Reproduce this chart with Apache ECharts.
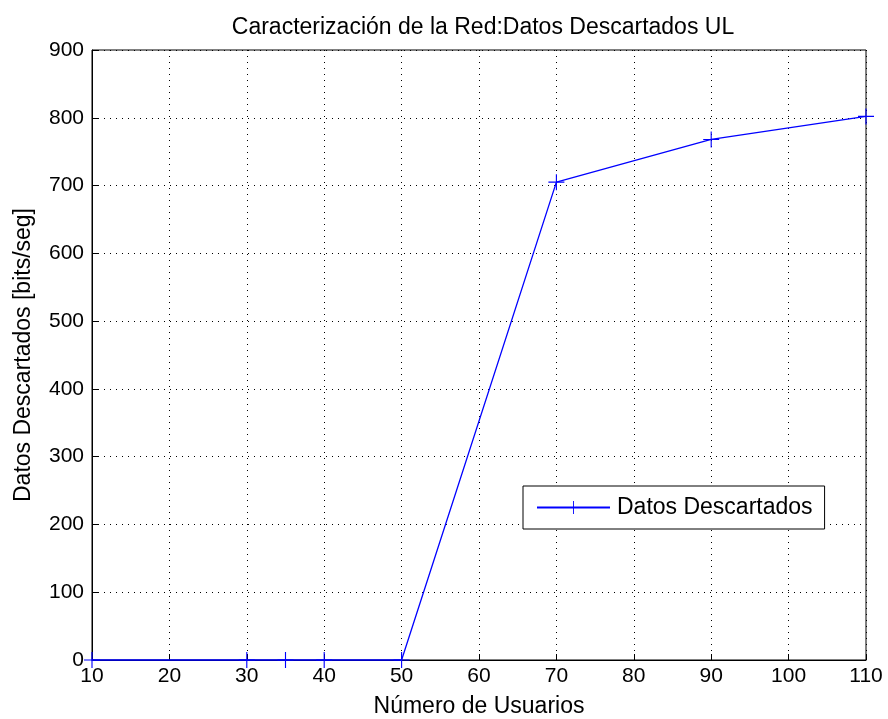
<!DOCTYPE html>
<html><head><meta charset="utf-8">
<script src="https://cdn.jsdelivr.net/npm/echarts@6/dist/echarts.min.js"></script>
<style>html,body{margin:0;padding:0;background:#fff}#c{width:888px;height:719px}</style>
</head><body><div id="c"></div>
<script>
const users = [10, 30, 35, 40, 50, 70, 90, 110];
const dropped = [0, 0, 0, 0, 0, 705, 768, 802];
const seriesName = 'Datos Descartados';
const titleText = 'Caracterización de la Red:Datos Descartados UL';
const xName = 'Número de Usuarios';
const yName = 'Datos Descartados [bits/seg]';

const font = 'Liberation Sans, Arial, sans-serif';
const cross = 'path://M-0.07,-1H0.07V1H-0.07Z M-1,-0.07H1V0.07H-1Z';
const chart = echarts.init(document.getElementById('c'), null, {renderer: 'canvas'});
chart.setOption({
  animation: false,
  backgroundColor: '#fff',
  title: {text: titleText, left: 478, top: 11, textAlign: 'center',
    textStyle: {fontFamily: font, fontWeight: 'normal', fontSize: 23, color: '#000'}},
  grid: {left: 92, right: 22, top: 50, bottom: 59, outerBoundsMode: 'none', containLabel: false,
    show: true, borderColor: '#000', borderWidth: 1, backgroundColor: '#fff'},
  legend: {
    left: 523, top: 486,
    padding: [10, 12, 10, 13],
    backgroundColor: '#fff', borderColor: '#000', borderWidth: 1,
    itemWidth: 73, itemHeight: 16, itemGap: 4,
    textStyle: {fontFamily: font, fontSize: 23, color: '#000', padding: [0, 0, 0, 2]},
    data: [{name: seriesName}]
  },
  xAxis: {
    type: 'value', min: 10, max: 110, interval: 10,
    name: xName, nameLocation: 'middle', nameGap: 35,
    nameTextStyle: {fontFamily: font, fontSize: 23, color: '#000'},
    axisLine: {show: true, onZero: false, lineStyle: {color: '#000'}},
    axisTick: {show: true, inside: true, length: 6, lineStyle: {color: '#000'}},
    axisLabel: {fontFamily: font, fontSize: 21, color: '#000', margin: 6},
    splitLine: {show: true, lineStyle: {color: '#000', type: [1, 5], width: 1}}
  },
  yAxis: {
    type: 'value', min: 0, max: 900, interval: 100,
    name: yName, nameLocation: 'middle', nameGap: 57, nameRotate: 90,
    nameTextStyle: {fontFamily: font, fontSize: 23, color: '#000'},
    axisLine: {show: true, lineStyle: {color: '#000'}},
    axisTick: {show: true, inside: true, length: 6, lineStyle: {color: '#000'}},
    axisLabel: {fontFamily: font, fontSize: 21, color: '#000', margin: 8},
    splitLine: {show: true, lineStyle: {color: '#000', type: [1, 5], width: 1}}
  },
  series: [{
    name: seriesName, type: 'line',
    data: users.map((u, i) => [u, dropped[i]]),
    symbol: cross, symbolSize: 16, showAllSymbol: true,
    clip: false,
    lineStyle: {color: '#0000ff', width: 1.3},
    itemStyle: {color: '#0000ff'}
  }]
});
</script></body></html>
